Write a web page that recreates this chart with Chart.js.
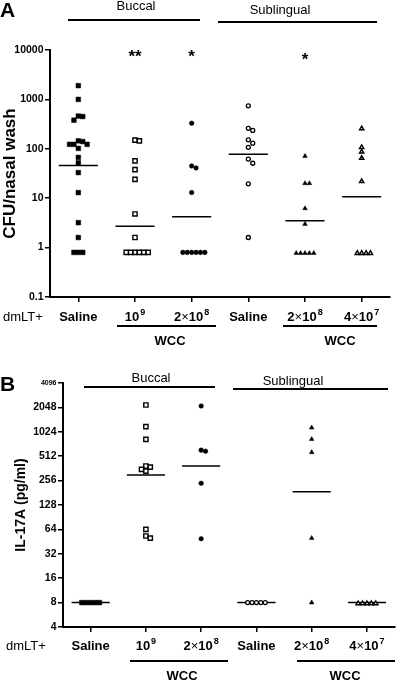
<!DOCTYPE html>
<html><head><meta charset="utf-8">
<script src="https://cdn.jsdelivr.net/npm/chart.js@4.4.1/dist/chart.umd.min.js"></script>
<style>
html,body{margin:0;padding:0;background:#fff;}
#wrap{position:relative;width:400px;height:680px;overflow:hidden;font-family:"Liberation Sans",Arial,sans-serif;color:#000;}
canvas{position:absolute;left:0;}
#cA{top:0;} #cB{top:360px;}
.t{position:absolute;line-height:1;white-space:nowrap;}
.hl{position:absolute;height:2px;background:#000;}
.sup{font-size:9px;position:relative;top:-6px;margin-left:1px;}
.x{font-weight:normal;}
</style></head>
<body><div id="wrap">
<canvas id="cA" width="400" height="360" style="width:400px;height:360px"></canvas>
<canvas id="cB" width="400" height="320" style="width:400px;height:320px"></canvas>
</div>
<script>
// ---------- DATA ----------
const groupLabels = ['Saline', '10^9', '2x10^8', 'Saline', '2x10^8', '4x10^7'];
const routes = ['Buccal', 'Sublingual'];

// Panel A: CFU / nasal wash
const cfuBuccalSaline  = [1900, 1000, 460, 450, 380, 145, 140, 123, 123, 123, 102, 67, 52, 33, 13, 3.2, 1.6, 0.8, 0.8, 0.8];
const cfuBuccalWcc1e9  = [150, 145, 57, 38, 24, 4.8, 1.6, 0.8, 0.8, 0.8, 0.8, 0.8, 0.8];
const cfuBuccalWcc2e8  = [330, 45, 41, 13, 0.8, 0.8, 0.8, 0.8, 0.8, 0.8];
const cfuSublSaline    = [740, 260, 235, 152, 130, 107, 62, 51, 19.5, 1.6];
const cfuSublWcc2e8    = [71, 20, 20, 6.2, 3.0, 0.77, 0.77, 0.77, 0.77, 0.77];
const cfuSublWcc4e7    = [257, 107, 87, 65, 22, 0.77, 0.77, 0.77, 0.77];
const cfuGeoMeans      = [46, 2.7, 4.2, 78, 3.5, 10.7];
const cfuTicks         = [0.1, 1, 10, 100, 1000, 10000];
const cfuSignificance  = ['', '**', '*', '', '*', ''];

// Panel B: IL-17A (pg/ml)
const il17BuccalSaline = [8, 8, 8, 8, 8];
const il17BuccalWcc1e9 = [2190, 1185, 826, 388, 375, 352, 335, 64, 53, 50];
const il17BuccalWcc2e8 = [2130, 608, 590, 237, 49];
const il17SublSaline   = [8, 8, 8, 8, 8];
const il17SublWcc2e8   = [1150, 830, 572, 50, 8];
const il17SublWcc4e7   = [7.8, 7.8, 7.8, 7.8, 7.8];
const il17GeoMeans     = [8, 300, 388, 8, 187, 8];
const il17Ticks        = [4, 8, 16, 32, 64, 128, 256, 512, 1024, 2048, 4096];

// ---------- STYLE ----------
const FONT = '"Liberation Sans", Arial, sans-serif';
const markerStyles = [
  {style: 'rect',     r: 3.3, fill: '#000', bw: 0.5},
  {style: 'rect',     r: 3.0, fill: '#fff', bw: 1.4},
  {style: 'circle',   r: 2.3, fill: '#000', bw: 0.5},
  {style: 'circle',   r: 2.0, fill: '#fff', bw: 1.3},
  {style: 'triangle', r: 2.7, fill: '#000', bw: 0.5},
  {style: 'triangle', r: 2.5, fill: '#fff', bw: 1.4}
];
const SWARM_STEP = 4.4;

function makeChart(canvas, groups, means, ticks, yTitle, pad, yWidth, titlePad) {
  const datasets = groups.map((vals, g) => ({
    type: 'scatter',
    data: vals.map(v => ({x: g, y: v})),
    pointStyle: markerStyles[g].style,
    pointRadius: markerStyles[g].r,
    pointBackgroundColor: markerStyles[g].fill,
    pointBorderColor: '#000',
    pointBorderWidth: markerStyles[g].bw,
    order: 1,
    clip: false
  }));
  const meanData = [];
  means.forEach((m, g) => { meanData.push({x: g - 0.345, y: m}, {x: g + 0.345, y: m}, {x: g + 0.5, y: null}); });
  datasets.push({type: 'scatter', data: meanData, showLine: true, spanGaps: false, borderColor: '#000',
    borderWidth: 1.5, pointRadius: 0, order: 2, clip: false});
  const chart = new Chart(canvas, {
    data: {datasets},
    options: {
      responsive: false, animation: false, events: [],
      layout: {padding: pad},
      plugins: {legend: {display: false}, tooltip: {enabled: false}},
      scales: {
        x: {
          type: 'linear', min: -0.5, max: 5.5,
          afterBuildTicks: s => { s.ticks = groupLabels.map((_, i) => ({value: i})); },
          ticks: {display: false},
          grid: {drawOnChartArea: false, drawTicks: true, tickLength: 5, lineWidth: 1.5, color: '#000'},
          border: {display: true, color: '#000', width: 2},
          afterFit: s => { s.height = 8; }
        },
        y: {
          type: 'logarithmic', min: ticks[0], max: ticks[ticks.length - 1],
          afterBuildTicks: s => { s.ticks = ticks.map(v => ({value: v})); },
          ticks: {
            autoSkip: false, padding: 1.5, color: '#000',
            callback: v => String(v),
            font: c => ({family: FONT, weight: 'bold', size: (c.tick && c.tick.value === 4096) ? 7 : 10.5})
          },
          grid: {drawOnChartArea: false, drawTicks: true, tickLength: 5, lineWidth: 1.5, color: '#000'},
          border: {display: true, color: '#000', width: 2},
          title: {display: true, text: yTitle.text, color: '#000',
            font: {family: FONT, weight: 'bold', size: yTitle.size}, padding: {top: titlePad, bottom: 0}},
          afterFit: s => { s.width = yWidth; }
        }
      }
    }
  });
  // beeswarm spreading of tied / close points, computed from the library's scales
  const ys = chart.scales.y, xs = chart.scales.x;
  const pxPerUnit = xs.getPixelForValue(1) - xs.getPixelForValue(0);
  groups.forEach((vals, g) => {
    const order = vals.map((v, i) => i).sort((a, b) => vals[b] - vals[a]);
    const placed = [];
    const off = new Array(vals.length).fill(0);
    for (const i of order) {
      const py = ys.getPixelForValue(vals[i]);
      for (let k = 0; k < 80; k++) {
        const m = k === 0 ? 0 : (k % 2 ? (k + 1) / 2 : -k / 2);
        const dx = m * SWARM_STEP;
        if (!placed.some(p => Math.abs(p.x - dx) < SWARM_STEP - 0.01 && Math.abs(p.y - py) < SWARM_STEP - 0.01)) {
          placed.push({x: dx, y: py}); off[i] = dx; break;
        }
      }
    }
    chart.data.datasets[g].data = vals.map((v, i) => ({x: g + off[i] / pxPerUnit, y: v}));
  });
  chart.update('none');
  return chart;
}

const chartA = makeChart(document.getElementById('cA'),
  [cfuBuccalSaline, cfuBuccalWcc1e9, cfuBuccalWcc2e8, cfuSublSaline, cfuSublWcc2e8, cfuSublWcc4e7],
  cfuGeoMeans, cfuTicks, {text: 'CFU/nasal wash', size: 17}, {top: 50, left: 0, right: 10, bottom: 55}, 50, 0);
const chartB = makeChart(document.getElementById('cB'),
  [il17BuccalSaline, il17BuccalWcc1e9, il17BuccalWcc2e8, il17SublSaline, il17SublWcc2e8, il17SublWcc4e7],
  il17GeoMeans, il17Ticks, {text: 'IL-17A (pg/ml)', size: 14}, {top: 23, left: 0, right: 2, bottom: 45}, 63, 13);

// ---------- TEXT & ANNOTATIONS ----------
const wrap = document.getElementById('wrap');
function addText(html, x, cy, size, bold, align) {
  const d = document.createElement('div');
  d.className = 't';
  d.innerHTML = html;
  d.style.fontSize = size + 'px';
  d.style.fontWeight = bold ? 'bold' : 'normal';
  d.style.top = (cy - 0.49 * size) + 'px';
  d.style.left = x + 'px';
  if (align !== 'left') d.style.transform = 'translateX(-50%)';
  wrap.appendChild(d);
}
function addRule(x1, x2, cy) {
  const d = document.createElement('div');
  d.className = 'hl';
  d.style.left = x1 + 'px'; d.style.width = (x2 - x1) + 'px'; d.style.top = (cy - 1) + 'px';
  wrap.appendChild(d);
}
function fmtLabel(s) {
  if (s.indexOf('^') < 0) return s;
  const [base, exp] = s.split('^');
  const b = base.replace('x', '<span class="x">\u00d7</span>');
  return b + '<span class="sup">' + exp + '</span>';
}
function xLabels(chart, cy) {
  groupLabels.forEach((g, i) => addText(fmtLabel(g), chart.scales.x.getPixelForValue(i), cy, 13, true));
}

// Panel A
addText('A', 0, 9, 21, true, 'left');
addText(routes[0], 136, 5.5, 13, false);
addText(routes[1], 280, 9.5, 13, false);
addRule(68, 200, 20);
addRule(218, 377, 21.7);
cfuSignificance.forEach((s, i) => { if (s) addText(s, chartA.scales.x.getPixelForValue(i), i === 4 ? 59 : 56, 17, true); });
addText('dmLT+', 3, 316, 13, false, 'left');
xLabels(chartA, 316);
addRule(117, 216, 325.7);
addRule(283, 377, 325.7);
addText('WCC', 170, 340.5, 13, true);
addText('WCC', 340, 340.5, 13, true);

// Panel B
addText('B', 0, 383, 21, true, 'left');
addText(routes[0], 151, 377.5, 13, false);
addText(routes[1], 293, 380.8, 13, false);
addRule(84, 215, 387.3);
addRule(233, 388, 389);
addText('dmLT+', 6, 645, 13, false, 'left');
xLabels(chartB, 645);
addRule(130, 228, 660.7);
addRule(297, 395, 660.7);
addText('WCC', 182, 675.5, 13, true);
addText('WCC', 345, 675.5, 13, true);
</script>
</body></html>
